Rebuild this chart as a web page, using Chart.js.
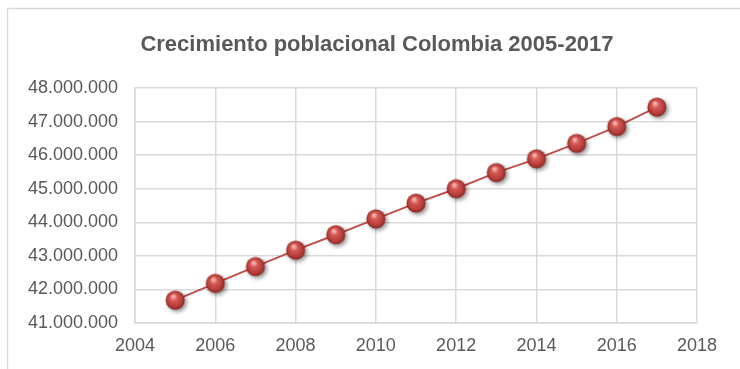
<!DOCTYPE html>
<html>
<head>
<meta charset="utf-8">
<script src="https://cdn.jsdelivr.net/npm/chart.js@4/dist/chart.umd.min.js"></script>
<style>
  html, body { margin: 0; padding: 0; background: #fff; }
  #wrap { width: 740px; height: 369px; }
</style>
</head>
<body>
<div id="wrap"><canvas id="popChart" width="740" height="369"></canvas></div>
<script>
// DATA
const years = [2005, 2006, 2007, 2008, 2009, 2010, 2011, 2012, 2013, 2014, 2015, 2016, 2017];
const population = [41680000, 42180000, 42680000, 43170000, 43630000, 44100000, 44570000,
                    45000000, 45480000, 45890000, 46350000, 46850000, 47430000];
const xTicks = [2004, 2006, 2008, 2010, 2012, 2014, 2016, 2018];
const yTicks = [41000000, 42000000, 43000000, 44000000, 45000000, 46000000, 47000000, 48000000];
const titleText = 'Crecimiento poblacional Colombia 2005-2017';

const textColor = '#595959';
const gridColor = '#d9d9d9';
const fontFam = 'Liberation Sans, Arial, sans-serif';

// red 3d ball marker
function sphere() {
  const c = document.createElement('canvas');
  c.width = 30; c.height = 30;
  const g = c.getContext('2d');
  g.shadowColor = 'rgba(0,0,0,0.45)';
  g.shadowBlur = 4;
  g.shadowOffsetX = 2;
  g.shadowOffsetY = 2;
  const grad = g.createRadialGradient(13, 11, 1, 15, 15, 9.5);
  grad.addColorStop(0, '#f6b4b1');
  grad.addColorStop(0.3, '#d65a56');
  grad.addColorStop(0.8, '#b23a36');
  grad.addColorStop(1, '#80241f');
  g.fillStyle = grad;
  g.beginPath();
  g.arc(15, 15, 9.5, 0, Math.PI * 2);
  g.fill();
  return c;
}
const ball = sphere();

function dots(v) {
  return String(v).replace(/\B(?=(\d{3})+(?!\d))/g, '.');
}

// outer frame + title (centered on the frame, not the plot)
const frame = {
  id: 'frame',
  beforeDraw(chart) {
    const ctx = chart.ctx;
    ctx.save();
    ctx.strokeStyle = gridColor;
    ctx.lineWidth = 1.5;
    ctx.strokeRect(7.5, 8.5, 800, 400);
    ctx.restore();
  },
  afterDraw(chart) {
    const ctx = chart.ctx;
    ctx.save();
    ctx.fillStyle = textColor;
    ctx.font = 'bold 22px ' + fontFam;
    ctx.textAlign = 'center';
    ctx.textBaseline = 'middle';
    ctx.fillText(titleText, 377, 45);
    ctx.restore();
  }
};

const ctx1 = document.getElementById('popChart').getContext('2d');
const myChart1 = new Chart(ctx1, {
  type: 'scatter',
  data: {
    datasets: [{
      label: 'Población',
      data: years.map((y, i) => ({ x: y, y: population[i] })),
      showLine: true,
      borderColor: '#c0504d',
      borderWidth: 2,
      pointStyle: ball,
      pointRadius: 10,
      pointHoverRadius: 10
    }]
  },
  options: {
    responsive: false,
    animation: false,
    devicePixelRatio: 1,
    layout: { padding: { left: 0, right: 43, top: 88, bottom: 0 } },
    plugins: {
      legend: { display: false },
      tooltip: { enabled: false },
      title: { display: false }
    },
    scales: {
      x: {
        type: 'linear',
        min: xTicks[0],
        max: xTicks[xTicks.length - 1],
        afterBuildTicks: s => { s.ticks = xTicks.map(v => ({ value: v })); },
        afterFit: s => { s.height = 46; },
        grid: { color: gridColor, lineWidth: 1.5, drawTicks: false },
        border: { color: gridColor, width: 1.5 },
        ticks: {
          color: textColor,
          padding: 12,
          font: { family: fontFam, size: 18 },
          callback: v => String(v)
        }
      },
      y: {
        min: yTicks[0],
        max: yTicks[yTicks.length - 1],
        afterBuildTicks: s => { s.ticks = yTicks.map(v => ({ value: v })); },
        afterFit: s => { s.width = 135; },
        grid: { color: gridColor, lineWidth: 1.5, drawTicks: false },
        border: { color: gridColor, width: 1.5 },
        ticks: {
          color: textColor,
          padding: 17,
          font: { family: fontFam, size: 18 },
          callback: v => dots(v)
        }
      }
    }
  },
  plugins: [frame]
});
</script>
</body>
</html>
